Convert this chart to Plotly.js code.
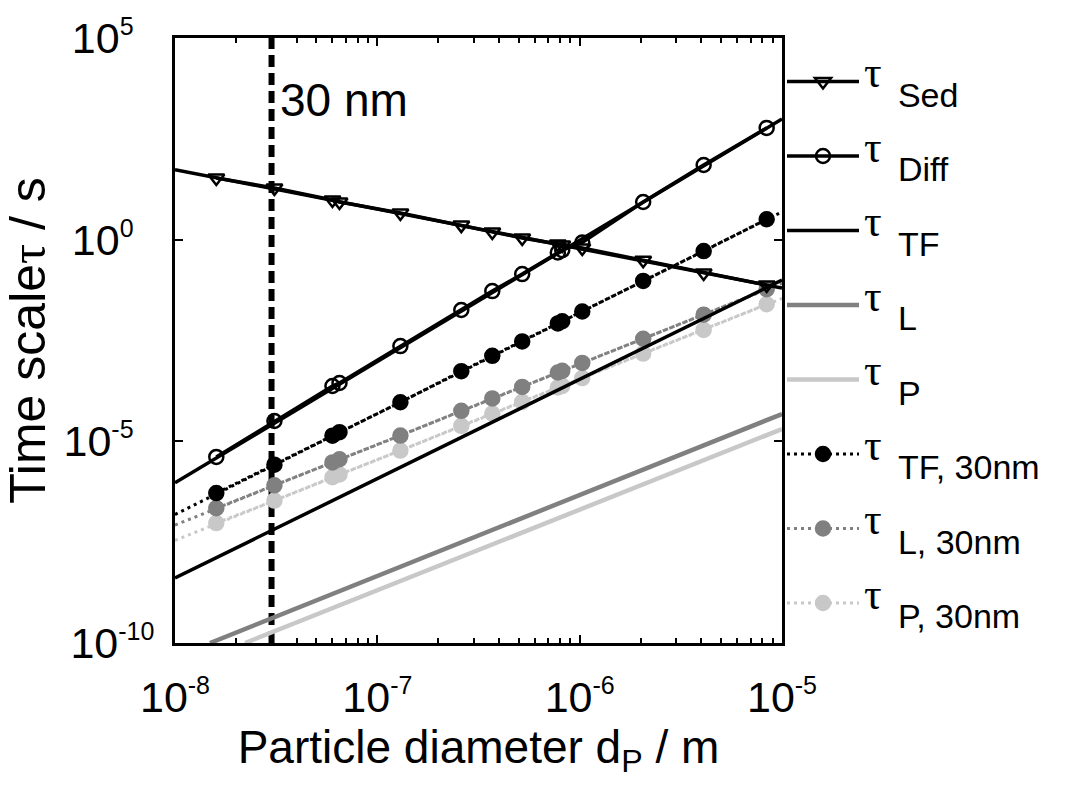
<!DOCTYPE html>
<html>
<head>
<meta charset="utf-8">
<script src="https://cdn.plot.ly/plotly-3.0.1.min.js"></script>
<style>html,body{margin:0;padding:0;background:#fff;}#chart{width:1072px;height:786px;}</style>
</head>
<body>
<div id="chart"></div>
<script>
// ---- data (particle diameter in m, time scale in s) ----
const dp = [1.6e-8, 3.1e-8, 6.0e-8, 6.5e-8, 1.3e-7, 2.6e-7, 3.7e-7, 5.2e-7, 7.8e-7, 8.2e-7, 1.03e-6, 2.06e-6, 4.1e-6, 8.4e-6];
const tauSed  = [33.8, 19.1, 9.6, 8.6, 4.6, 2.3, 1.55, 1.10, 0.78, 0.74, 0.62, 0.31, 0.15, 0.075];
const tauDiff = [4.1e-6, 3.2e-5, 2.35e-4, 2.8e-4, 2.3e-3, 1.8e-2, 5.3e-2, 0.14, 0.48, 0.55, 0.85, 8.6, 71, 590];
const tauTF30 = [5.2e-7, 2.64e-6, 1.38e-5, 1.69e-5, 9.3e-5, 5.5e-4, 1.32e-3, 3.0e-3, 8.4e-3, 9.5e-3, 1.66e-2, 9.5e-2, 0.52, 3.2];
const tauL30  = [2.2e-7, 8.1e-7, 3.0e-6, 3.6e-6, 1.39e-5, 5.7e-5, 1.16e-4, 2.23e-4, 5.1e-4, 5.6e-4, 8.8e-4, 3.5e-3, 1.38e-2, 5.9e-2];
const tauP30  = [9.4e-8, 3.4e-7, 1.29e-6, 1.51e-6, 5.9e-6, 2.42e-5, 4.9e-5, 9.5e-5, 2.16e-4, 2.37e-4, 3.7e-4, 1.50e-3, 5.8e-3, 2.5e-2];

// continuous curves (read at the plot edges)
const edgeD     = [1e-8, 1e-5];
const sedEdge   = [54.6, 0.063];
const diffEdge  = [9.4e-7, 980];
const tfEdge    = [4.1e-9, 0.1];
const tf30Edge  = [1.53e-7, 4.9];
const l30Edge   = [8.4e-8, 0.082];
const p30Edge   = [3.5e-8, 0.035];
const lD = [1.49e-8, 1e-5];  const tauL = [1e-10, 4.75e-5];
const pD = [2.22e-8, 1e-5];  const tauP = [1e-10, 2.02e-5];

const cutoffD = 3e-8;            // 30 nm
const cutoffLabel = '30 nm';
const yRangeVals = [1e-10, 1e5];

const legendSubs = ['Sed', 'Diff', 'TF', 'L', 'P', 'TF, 30nm', 'L, 30nm', 'P, 30nm'];
const xTickVals = [1e-8, 1e-7, 1e-6, 1e-5];
const xTickText = ['-8', '-7', '-6', '-5'];
const yTickVals = [1e-10, 1e-5, 1, 1e5];
const yTickText = ['-10', '-5', '0', '5'];

// ---- styling ----
const BLACK = '#000000', GREY = '#808080', LIGHT = '#c8c8c8';
const FONT = 'Liberation Sans, Arial, sans-serif';
const NB = '\u00A0';
// MATLAB-like labels: "10" stays in place, exponent trails to the right (pad short exponents)
const supX = e => '10<sup><span style="font-size:25px">' + e + '</span></sup>';
const supY = e => {
  const pad = {'-10': 0, '-5': 3, '0': 3, '5': 3}[e];
  return '10<sup><span style="font-size:25px">' + e + NB.repeat(pad) + '</span></sup>';
};
const legName = s => '<span style="font-family:Liberation Serif;font-size:44px">τ</span><br>' +
  '<span style="font-size:34px">' + NB + NB + NB + '</span><span style="font-size:20px">' + NB + '</span>' +
  '<span style="font-size:34px">' + s + '</span>';
const dotDash = '3px,4px';

const xMinor = [];
for (let e = -8; e < -5; e++) for (let m = 2; m <= 9; m++) xMinor.push(m * Math.pow(10, e));

const traces = [];
function lineOnly(x, y, color, width, dash) {
  traces.push({x: x, y: y, mode: 'lines', type: 'scatter', showlegend: false, hoverinfo: 'skip',
    line: {color: color, width: width, dash: dash || 'solid'}});
}
function withMarkers(i, x, y, color, width, dash, symbol, size, group) {
  traces.push({x: x, y: y, mode: 'lines+markers', type: 'scatter', name: legName(legendSubs[i]),
    legendgroup: group, legendrank: i + 1,
    line: {color: color, width: width, dash: dash || 'solid'},
    marker: {symbol: symbol, size: size, color: color, line: {color: color, width: 2.5}}});
}
function lineLegend(i, x, y, color, width, group) {
  traces.push({x: x, y: y, mode: 'lines', type: 'scatter', name: legName(legendSubs[i]),
    legendgroup: group, legendrank: i + 1, line: {color: color, width: width}});
}

// 30 nm marker line
traces.push({x: [cutoffD, cutoffD], y: yRangeVals, mode: 'lines', showlegend: false, hoverinfo: 'skip',
  line: {color: BLACK, width: 6, dash: '12px,6px'}});

// grey solid lines
lineLegend(3, lD, tauL, GREY, 4.5, 'g4');
lineLegend(4, pD, tauP, LIGHT, 4.5, 'g5');
// dotted 30 nm series
lineOnly(edgeD, p30Edge, LIGHT, 3, dotDash);
withMarkers(7, dp, tauP30, LIGHT, 3, dotDash, 'circle', 14, 'g8');
lineOnly(edgeD, l30Edge, GREY, 3, dotDash);
withMarkers(6, dp, tauL30, GREY, 3, dotDash, 'circle', 14, 'g7');
lineOnly(edgeD, tf30Edge, BLACK, 3, dotDash);
withMarkers(5, dp, tauTF30, BLACK, 3, dotDash, 'circle', 14, 'g6');
// TF
lineLegend(2, edgeD, tfEdge, BLACK, 3.5, 'g3');
// Sed, Diff
lineOnly(edgeD, sedEdge, BLACK, 3.5);
withMarkers(0, dp, tauSed, BLACK, 3.5, 'solid', 'triangle-down-open', 14, 'g1');
lineOnly(edgeD, diffEdge, BLACK, 3.5);
withMarkers(1, dp, tauDiff, BLACK, 3.5, 'solid', 'circle-open', 14, 'g2');

const axisCommon = {
  showline: true, linecolor: BLACK, linewidth: 3, mirror: 'allticks',
  ticks: 'inside', ticklen: 8, tickwidth: 2, tickcolor: BLACK,
  showgrid: false, zeroline: false, tickmode: 'array',
  tickfont: {family: FONT, size: 43, color: BLACK}
};

const layout = {
  width: 1072, height: 786,
  margin: {l: 175, r: 290, t: 38, b: 143, autoexpand: false},
  paper_bgcolor: '#ffffff', plot_bgcolor: '#ffffff',
  font: {family: FONT, color: BLACK},
  showlegend: true,
  xaxis: Object.assign({}, axisCommon, {
    type: 'log', range: [-8, -5],
    tickvals: xTickVals, ticktext: xTickText.map(supX), ticklabelstandoff: 14,
    minor: {tickmode: 'array', tickvals: xMinor, ticks: 'inside', ticklen: 5, tickwidth: 2, tickcolor: BLACK},
    title: {text: 'Particle diameter d<sub>P</sub> / m', font: {family: FONT, size: 46, color: BLACK}, standoff: 2}
  }),
  yaxis: Object.assign({}, axisCommon, {
    type: 'log', range: [-10, 5],
    tickvals: yTickVals, ticktext: yTickText.map(supY), ticklabelstandoff: 9,
    title: {text: 'Time scale<span style="font-family:Liberation Serif">τ</span> / s', font: {family: FONT, size: 50, color: BLACK}, standoff: 3}
  }),
  legend: {
    x: 1.0, xanchor: 'left', y: 0.955, yanchor: 'top',
    font: {family: FONT, size: 15, color: BLACK},
    itemwidth: 72, tracegroupgap: 32.5, valign: 'top',
    bgcolor: 'rgba(0,0,0,0)', borderwidth: 0, traceorder: 'grouped'
  },
  annotations: [{
    x: Math.log10(cutoffD), xref: 'x', xanchor: 'left', xshift: 6,
    y: 0.8975, yref: 'paper', yanchor: 'middle',
    text: cutoffLabel, showarrow: false,
    font: {family: FONT, size: 46, color: BLACK}
  }]
};

Plotly.newPlot('chart', traces, layout, {displayModeBar: false, staticPlot: true});
</script>
</body>
</html>
